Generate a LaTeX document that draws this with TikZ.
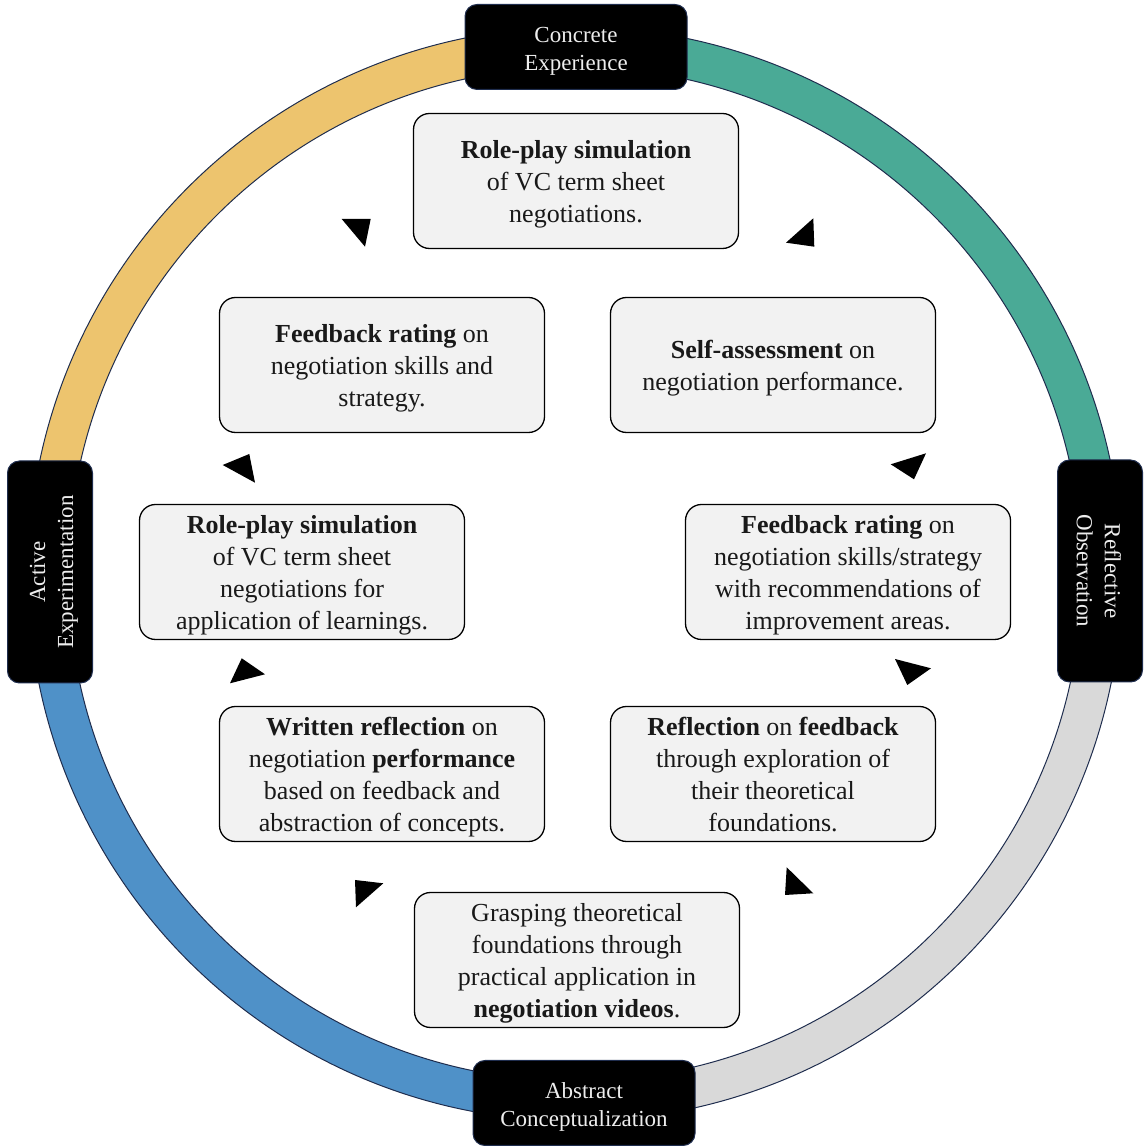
\documentclass[tikz,border=0pt]{standalone}
\usepackage{fontspec}
\setmainfont{Liberation Serif}
% centred block of lines, set slightly below the optical centre of its box
\newcommand\linesof[1]{\raisebox{-3.5pt}[\height][\depth]{\begin{tabular}{@{}c@{}}#1\end{tabular}}}
\begin{document}
\begin{tikzpicture}[x=1pt,y=1pt,
  stage/.style={draw=navyline, line width=1pt, fill=black, rounded corners=12pt,
    minimum width=222pt, minimum height=85pt, text=white!93!black,
    font=\fontsize{23}{28}\selectfont, inner sep=0pt},
  activity/.style={draw=black, line width=1.3pt, fill=boxgrey, rounded corners=16pt,
    minimum width=325pt, minimum height=135pt, text=black!90,
    font=\fontsize{26}{32}\selectfont, inner sep=0pt},
  tip/.style={fill=black}]
\definecolor{navyline}{HTML}{1F2D4E}
\definecolor{boxgrey}{HTML}{F2F2F2}
\definecolor{ringyellow}{HTML}{EDC46E}
\definecolor{ringteal}{HTML}{4AAA96}
\definecolor{ringgrey}{HTML}{D9D9D9}
\definecolor{ringblue}{HTML}{4F91C8}
\useasboundingbox (0,0) rectangle (1144,1146);
\coordinate (c) at (575,572);

% four coloured quarters of the cycle ring
\foreach \a/\col in {90/ringyellow, 0/ringteal, -90/ringgrey, -180/ringblue}{
  \draw[fill=\col, draw=navyline, line width=1pt]
    ([shift={(\a:547pt)}]c) arc[start angle=\a, end angle=\a+90, radius=547pt]
    -- ([shift={(\a+90:507pt)}]c) arc[start angle=\a+90, end angle=\a, radius=507pt]
    -- cycle;
}

% stage labels on the ring
\node[stage] (ce) at (576,1099) {\linesof{Concrete\\Experience}};
\node[stage, rotate=-90] (ro) at (1100,575) {\linesof{Reflective\\Observation}};
\node[stage] (ac) at (584,43) {\linesof{Abstract\\Conceptualization}};
\node[stage, rotate=90] (ae) at (50,574) {\linesof{Active\\Experimentation}};

% activities
\node[activity] (a1) at (576,965) {\linesof{\textbf{Role-play simulation}\\of VC term sheet\\negotiations.}};
\node[activity] (a2) at (773,781) {\linesof{\textbf{Self-assessment} on\\negotiation performance.}};
\node[activity] (a3) at (848,574) {\linesof{\textbf{Feedback rating} on\\negotiation skills/strategy\\with recommendations of\\improvement areas.}};
\node[activity] (a4) at (773,372) {\linesof{\textbf{Reflection} on \textbf{feedback}\\through exploration of\\their theoretical\\foundations.}};
\node[activity] (a5) at (577,186) {\linesof{Grasping theoretical\\foundations through\\practical application in\\\textbf{negotiation videos}.}};
\node[activity] (a6) at (382,372) {\linesof{\textbf{Written reflection} on\\negotiation \textbf{performance}\\based on feedback and\\abstraction of concepts.}};
\node[activity] (a7) at (302,574) {\linesof{\textbf{Role-play simulation}\\of VC term sheet\\negotiations for\\application of learnings.}};
\node[activity] (a8) at (382,781) {\linesof{\textbf{Feedback rating} on\\negotiation skills and\\strategy.}};

% arrowheads around the inner cycle
\fill[tip] (341.7,927) -- (370.7,927) -- (365,899.3) -- cycle;
\fill[tip] (813.3,927.7) -- (786,903.3) -- (814.3,899.3) -- cycle;
\fill[tip] (222.7,681) -- (249.3,692) -- (255,663.3) -- cycle;
\fill[tip] (890.7,681.7) -- (926,692.7) -- (914,666.7) -- cycle;
\fill[tip] (241.7,487.7) -- (265,471.7) -- (230,462.7) -- cycle;
\fill[tip] (895,487) -- (931,477.7) -- (907.3,461) -- cycle;
\fill[tip] (355,266) -- (383.3,262.7) -- (356,238.7) -- cycle;
\fill[tip] (786.7,278.7) -- (813.3,252.7) -- (785,251) -- cycle;
\end{tikzpicture}
\end{document}
